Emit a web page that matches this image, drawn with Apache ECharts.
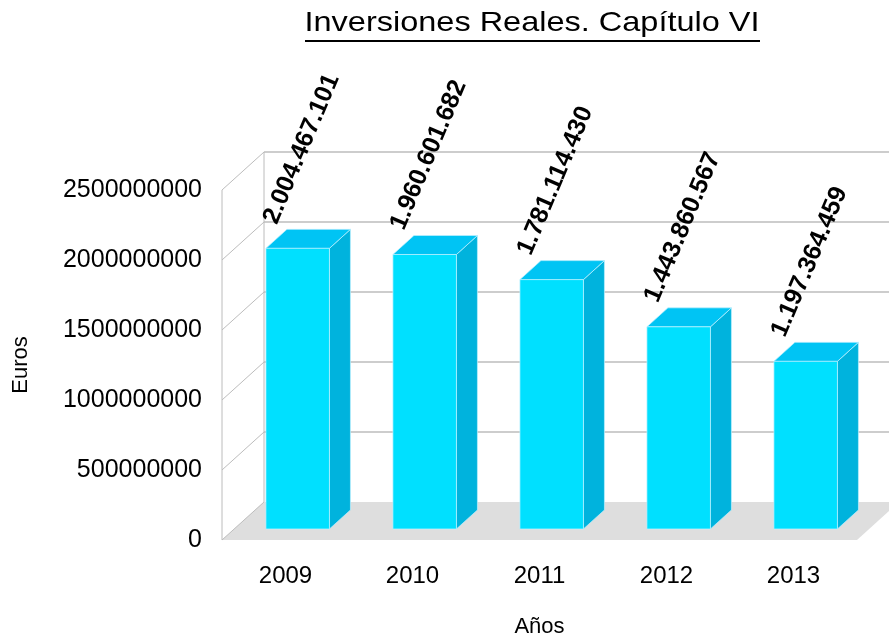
<!DOCTYPE html>
<html lang="es">
<head>
	<meta charset="UTF-8">
	<title>Inversiones Reales. Capítulo VI</title>
	<script src="https://cdn.jsdelivr.net/npm/echarts@6/dist/echarts.min.js"></script>
	<style>
		html, body { margin: 0; padding: 0; background: #fff; }
		#main { width: 889px; height: 637px; }
	</style>
</head>
<body>
	<div id="main"></div>
<script type="text/javascript">
	// datos del gráfico
	var anios = ['2009', '2010', '2011', '2012', '2013'];
	var importes = [2004467101, 1960601682, 1781114430, 1443860567, 1197364459];
	var yTicks = [0, 500000000, 1000000000, 1500000000, 2000000000, 2500000000];

	// desplazamiento de la pared del fondo (efecto 3D)
	var DX = 42, DY = -38;
	var fuente = '"Liberation Sans", Arial, sans-serif';

	// 2004467101 -> 2.004.467.101
	function puntos(v) {
		return String(v).replace(/\B(?=(\d{3})+(?!\d))/g, '.');
	}

	var myChart = echarts.init(document.getElementById('main'));

	// suelo y paredes
	function paredes(params, api) {
		var cs = params.coordSys;
		var x0 = cs.x, x1 = cs.x + cs.width;
		var bottom = api.coord([0, 0])[1];
		var top = api.coord([0, yTicks[yTicks.length - 1]])[1];
		var gris = '#bcbcbc';
		var hijos = [];
		hijos.push({
			type: 'polygon',
			shape: { points: [[x0, bottom], [x1, bottom], [x1 + DX, bottom + DY], [x0 + DX, bottom + DY]] },
			style: { fill: '#dedede' }
		});
		hijos.push({ type: 'line', shape: { x1: x0, y1: top, x2: x0, y2: bottom }, style: { stroke: gris, lineWidth: 1 } });
		hijos.push({ type: 'line', shape: { x1: x0 + DX, y1: top + DY, x2: x0 + DX, y2: bottom + DY }, style: { stroke: gris, lineWidth: 1 } });
		yTicks.forEach(function (t) {
			var y = api.coord([0, t])[1];
			hijos.push({ type: 'line', shape: { x1: x0, y1: y, x2: x0 + DX, y2: y + DY }, style: { stroke: gris, lineWidth: 1 } });
			if (t > 0) {
				hijos.push({ type: 'line', shape: { x1: x0 + DX, y1: y + DY, x2: x1 + DX, y2: y + DY }, style: { stroke: gris, lineWidth: 1.5 } });
			}
		});
		return { type: 'group', children: hijos };
	}

	// barras en 3D
	function barra(params, api) {
		var idx = api.value(0), val = api.value(1);
		var base = api.coord([idx, 0]);
		var cima = api.coord([idx, val]);
		var w = api.size([1, 0])[0] * 0.5;
		var f = 0.29, b = 0.79;
		var fx = base[0] - w / 2 + f * DX;
		var fy0 = base[1] + f * DY, fy1 = cima[1] + f * DY;
		var ddx = (b - f) * DX, ddy = (b - f) * DY;
		var borde = 'rgba(190,240,255,0.9)';
		return {
			type: 'group',
			children: [
				{
					type: 'polygon',
					shape: { points: [[fx + w, fy1], [fx + w + ddx, fy1 + ddy], [fx + w + ddx, fy0 + ddy], [fx + w, fy0]] },
					style: { fill: '#00b3dd', stroke: borde, lineWidth: 0.8 }
				},
				{
					type: 'polygon',
					shape: { points: [[fx, fy1], [fx + ddx, fy1 + ddy], [fx + w + ddx, fy1 + ddy], [fx + w, fy1]] },
					style: { fill: '#00c4f4', stroke: borde, lineWidth: 0.8 }
				},
				{
					type: 'rect',
					shape: { x: fx, y: fy1, width: w, height: fy0 - fy1 },
					style: { fill: '#00e0ff', stroke: borde, lineWidth: 0.8 }
				},
				{
					type: 'text',
					x: fx + 16,
					y: fy1 - 21,
					rotation: 67 * Math.PI / 180,
					style: {
						text: puntos(val),
						font: 'bold 25px ' + fuente,
						fill: '#000',
						align: 'left',
						verticalAlign: 'bottom'
					}
				}
			]
		};
	}

	var datosBarras = [];
	for (var i = 0; i < anios.length; i++) {
		datosBarras.push([i, importes[i]]);
	}

	var option = {
		animation: false,
		textStyle: { fontFamily: fuente },
		grid: { left: 222, right: 32, top: 190, bottom: 97, containLabel: false, outerBoundsMode: 'none' },
		graphic: [
			{
				type: 'text',
				x: 532,
				y: 23,
				scaleX: 1.16,
				style: {
					text: 'Inversiones Reales. Capítulo VI',
					font: '28px ' + fuente,
					fill: '#000',
					align: 'center',
					verticalAlign: 'middle'
				}
			},
			{
				type: 'rect',
				shape: { x: 305, y: 40, width: 455, height: 2 },
				style: { fill: '#000' }
			}
		],
		xAxis: {
			type: 'category',
			data: anios,
			name: 'Años',
			nameLocation: 'middle',
			nameGap: 76,
			nameTextStyle: { fontSize: 22, color: '#000' },
			axisLine: { show: false },
			axisTick: { show: false },
			axisLabel: { fontSize: 24, color: '#000', margin: 24 },
			splitLine: { show: false }
		},
		yAxis: {
			type: 'value',
			min: 0,
			max: 2500000000,
			interval: 500000000,
			name: 'Euros',
			nameLocation: 'middle',
			nameRotate: 90,
			nameGap: 190,
			nameTextStyle: { fontSize: 22, color: '#000' },
			axisLine: { show: false },
			axisTick: { show: false },
			axisLabel: {
				fontSize: 25,
				color: '#000',
				margin: 20,
				formatter: function (v) { return String(v); }
			},
			splitLine: { show: false }
		},
		series: [
			{
				type: 'custom',
				name: 'paredes',
				renderItem: paredes,
				data: [[0, 0]],
				clip: false,
				silent: true,
				z: 1
			},
			{
				type: 'custom',
				name: 'Inversiones',
				renderItem: barra,
				data: datosBarras,
				clip: false,
				silent: true,
				z: 2
			}
		]
	};

	myChart.setOption(option);
</script>
</body>
</html>
